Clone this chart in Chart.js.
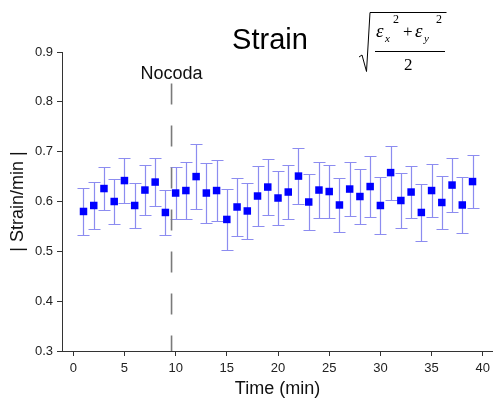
<!DOCTYPE html>
<html><head><meta charset="utf-8">
<script src="https://cdn.jsdelivr.net/npm/chart.js@4.4.1/dist/chart.umd.min.js"></script>
<style>html,body{margin:0;padding:0;background:#fff}#wrap{width:493px;height:400px}</style>
</head><body><div id="wrap"><canvas id="c" width="493" height="400"></canvas></div>
<script>
const times = [1,2,3,4,5,6,7,8,9,10,11,12,13,14,15,16,17,18,19,20,21,22,23,24,25,26,27,28,29,30,31,32,33,34,35,36,37,38,39];
const strain = [0.580,0.592,0.626,0.600,0.642,0.592,0.623,0.639,0.578,0.617,0.622,0.650,0.617,0.622,0.564,0.589,0.581,0.611,0.629,0.607,0.619,0.651,0.599,0.623,0.620,0.593,0.625,0.610,0.630,0.592,0.658,0.602,0.619,0.578,0.622,0.598,0.633,0.593,0.640];
const errors = [0.048,0.047,0.044,0.046,0.045,0.045,0.050,0.049,0.046,0.052,0.058,0.066,0.060,0.061,0.061,0.059,0.056,0.060,0.056,0.054,0.055,0.056,0.057,0.056,0.054,0.054,0.055,0.055,0.062,0.057,0.054,0.056,0.053,0.057,0.053,0.053,0.054,0.057,0.054];
const xTicks = [0,5,10,15,20,25,30,35,40];
const yTicks = [0.3,0.4,0.5,0.6,0.7,0.8,0.9];
const markerTime = 9.6;
const markerTop = 0.837;
const markerLabel = 'Nocoda';
const titleText = 'Strain';
const xTitle = 'Time (min)';
const yTitle = '| Strain/min |';

const errorBars = {
  id: 'errorBars',
  beforeDatasetsDraw(chart) {
    const ctx = chart.ctx, xs = chart.scales.x, ys = chart.scales.y;
    ctx.save();
    ctx.strokeStyle = 'rgb(140,140,240)';
    ctx.lineWidth = 1.2;
    times.forEach((t, i) => {
      const px = Math.round(xs.getPixelForValue(t)) + 0.5;
      const yt = Math.round(ys.getPixelForValue(strain[i] + errors[i])) + 0.5;
      const yb = Math.round(ys.getPixelForValue(strain[i] - errors[i])) + 0.5;
      ctx.beginPath();
      ctx.moveTo(px, yt); ctx.lineTo(px, yb);
      ctx.moveTo(px - 6, yt); ctx.lineTo(px + 6, yt);
      ctx.moveTo(px - 6, yb); ctx.lineTo(px + 6, yb);
      ctx.stroke();
    });
    ctx.restore();
  }
};

const annotations = {
  id: 'annotations',
  afterDraw(chart) {
    const ctx = chart.ctx, xs = chart.scales.x;
    ctx.save();
    ctx.fillStyle = '#000';
    ctx.textAlign = 'center';
    ctx.textBaseline = 'alphabetic';
    ctx.font = '29px "Liberation Sans", Arial, sans-serif';
    ctx.fillText(titleText, 270, 49);
    ctx.font = '18px "Liberation Sans", Arial, sans-serif';
    ctx.fillStyle = '#111';
    ctx.fillText(markerLabel, xs.getPixelForValue(markerTime), 79);

    // formula sqrt((eps_x^2 + eps_y^2)/2)
    ctx.fillStyle = '#000';
    ctx.strokeStyle = '#000';
    ctx.lineWidth = 1;
    ctx.beginPath();
    ctx.moveTo(359, 57); ctx.lineTo(362, 55); ctx.lineTo(366.5, 71.5); ctx.lineTo(370, 12.5); ctx.lineTo(446.5, 12.5);
    ctx.stroke();
    ctx.beginPath();
    ctx.moveTo(375, 51.5); ctx.lineTo(445, 51.5);
    ctx.stroke();
    ctx.textAlign = 'left';
    ctx.font = 'italic 19px "Liberation Serif", "Times New Roman", serif';
    ctx.fillText('\u03B5', 376, 37);
    ctx.fillText('\u03B5', 415, 37);
    ctx.font = 'italic 11px "Liberation Serif", "Times New Roman", serif';
    ctx.fillText('x', 385, 42);
    ctx.fillText('y', 424, 42);
    ctx.font = '12px "Liberation Serif", "Times New Roman", serif';
    ctx.fillText('2', 393, 23);
    ctx.fillText('2', 436, 23);
    ctx.font = '17px "Liberation Serif", "Times New Roman", serif';
    ctx.fillText('+', 403, 37);
    ctx.fillText('2', 404, 70);
    ctx.restore();
  }
};

const tickFont = { family: '"Liberation Sans", Arial, sans-serif', size: 13 };
const titleFont = { family: '"Liberation Sans", Arial, sans-serif', size: 18 };

new Chart(document.getElementById('c'), {
  type: 'scatter',
  data: {
    datasets: [
      {
        label: 'strain',
        data: times.map((t, i) => ({ x: t, y: strain[i] })),
        pointStyle: 'rect',
        pointRadius: 5.3,
        pointBackgroundColor: '#0000ff',
        pointBorderColor: '#0000ff',
        pointBorderWidth: 0,
        showLine: false
      },
      {
        type: 'line',
        label: markerLabel,
        data: [{ x: markerTime, y: markerTop }, { x: markerTime, y: yTicks[0] }],
        borderColor: '#7a7a7a',
        borderWidth: 1.6,
        borderDash: [21, 21],
        pointRadius: 0,
        fill: false
      }
    ]
  },
  options: {
    responsive: false,
    animation: false,
    events: [],
    layout: { autoPadding: false, padding: { top: 52, left: 0, right: 0, bottom: 0 } },
    plugins: { legend: { display: false }, tooltip: { enabled: false }, title: { display: false } },
    scales: {
      x: {
        type: 'linear',
        min: -1.1,
        max: 41,
        afterBuildTicks(s) { s.ticks = xTicks.map(v => ({ value: v })); },
        afterFit(s) { s.height = 49; s.paddingLeft = 0; s.paddingRight = 0; },
        ticks: { font: tickFont, color: '#222', padding: 5, maxRotation: 0, callback: v => String(v) },
        grid: { drawOnChartArea: false, drawTicks: true, tickLength: 5, color: '#333' },
        border: { display: true, color: '#333', width: 1 },
        title: { display: true, text: xTitle, font: titleFont, color: '#111', padding: { top: 0, bottom: 0 } }
      },
      y: {
        type: 'linear',
        min: 0.3,
        max: 0.9,
        afterBuildTicks(s) { s.ticks = yTicks.map(v => ({ value: v })); },
        afterFit(s) { s.width = 62; },
        ticks: { font: tickFont, color: '#222', padding: 4, callback: v => Number(v).toFixed(1) },
        grid: { drawOnChartArea: false, drawTicks: true, tickLength: 5, color: '#333' },
        border: { display: true, color: '#333', width: 1 },
        title: { display: true, text: yTitle, font: titleFont, color: '#111', padding: { top: 7, bottom: 0 } }
      }
    }
  },
  plugins: [errorBars, annotations]
});
</script>
</body></html>
